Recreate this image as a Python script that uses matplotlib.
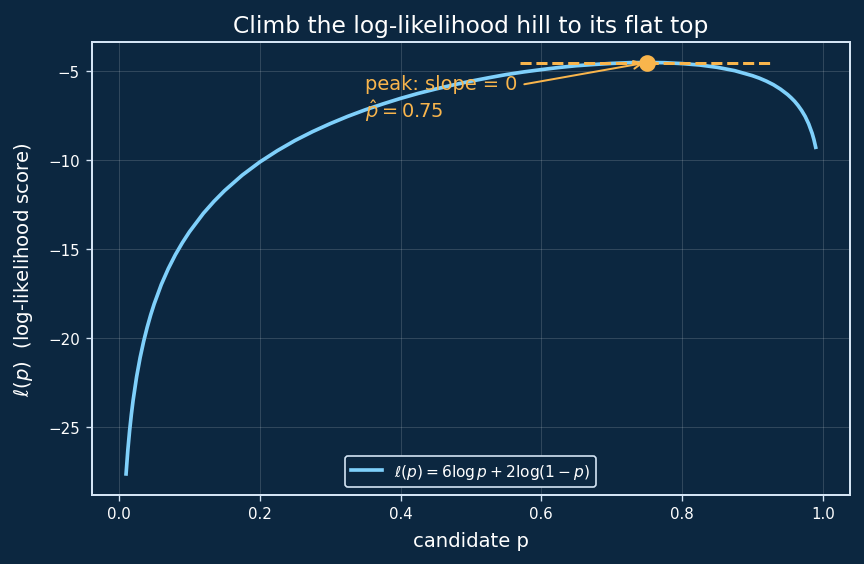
import matplotlib
matplotlib.use("Agg")
import matplotlib.pyplot as plt

# candidate p values and log-likelihood
p_vals = [0.01, 0.0125, 0.015, 0.0175, 0.02, 0.025, 0.03, 0.035, 0.04, 0.045, 0.05, 0.06,
          0.07, 0.08, 0.09, 0.1, 0.12, 0.135, 0.15, 0.175, 0.2, 0.225, 0.25, 0.275, 0.3,
          0.325, 0.35, 0.375, 0.4, 0.425, 0.45, 0.475, 0.5, 0.525, 0.55, 0.575, 0.6,
          0.625, 0.65, 0.675, 0.7, 0.725, 0.75, 0.775, 0.8, 0.825, 0.85, 0.875, 0.9,
          0.91, 0.92, 0.93, 0.94, 0.95, 0.955, 0.96, 0.965, 0.97, 0.975, 0.98, 0.985,
          0.9875, 0.99]
ll_vals = [-27.65, -26.32, -25.23, -24.31, -23.51, -22.18, -21.10, -20.19, -19.40, -18.70,
           -18.08, -17.00, -16.10, -15.32, -14.64, -14.03, -12.98, -12.31, -11.71, -10.84,
           -10.10, -9.46, -8.89, -8.39, -7.94, -7.53, -7.16, -6.83, -6.52, -6.24, -5.99,
           -5.76, -5.55, -5.36, -5.18, -5.03, -4.90, -4.78, -4.68, -4.61, -4.55, -4.51,
           -4.50, -4.51, -4.56, -4.64, -4.77, -4.96, -5.24, -5.38, -5.55, -5.75, -6.00,
           -6.30, -6.48, -6.68, -6.92, -7.20, -7.53, -7.95, -8.49, -8.84, -9.27]
p_hat = 0.75
ll_max = -4.50
flat_span = [0.57, 0.93]

BG = "#0c2740"
CURVE = "#7fd0fb"
ORANGE = "#f9b54c"
LIGHT = "#d4e4f4"

fig, ax = plt.subplots(figsize=(7.2, 4.7083), dpi=120)
fig.patch.set_facecolor(BG)
ax.set_facecolor(BG)

ax.plot(p_vals, ll_vals, color=CURVE, lw=2.2,
        label=r"$\ell(p) = 6\log p + 2\log(1-p)$")
ax.hlines(ll_max, flat_span[0], flat_span[1], colors=ORANGE, linestyles="--", lw=1.8)
ax.plot([p_hat], [ll_max], "o", color=ORANGE, ms=9, zorder=5)

ax.annotate("peak: slope = 0\n" + r"$\hat{p} = 0.75$", xy=(p_hat, ll_max),
            xytext=(0.35, -6.55), va="center", color=ORANGE, fontsize=11.6,
            arrowprops=dict(arrowstyle="->", color=ORANGE, lw=1.2))

ax.set_title("Climb the log-likelihood hill to its flat top", color="white", fontsize=14)
ax.set_xlabel("candidate p", color="white", fontsize=11.8, labelpad=6)
ax.set_ylabel(r"$\ell(p)$  (log-likelihood score)", color="white", fontsize=11.8, labelpad=8)

ax.grid(True, color="white", alpha=0.15, lw=0.6)
ax.tick_params(colors=LIGHT, labelsize=9, labelcolor="white")
for s in ax.spines.values():
    s.set_color(LIGHT)
    s.set_linewidth(1.2)

leg = ax.legend(loc="lower center", fontsize=9.2, facecolor=BG, edgecolor=LIGHT,
                labelcolor="white", framealpha=1)

plt.subplots_adjust(left=0.106, right=0.984, top=0.924, bottom=0.123)
plt.savefig("out.png", facecolor=BG)
